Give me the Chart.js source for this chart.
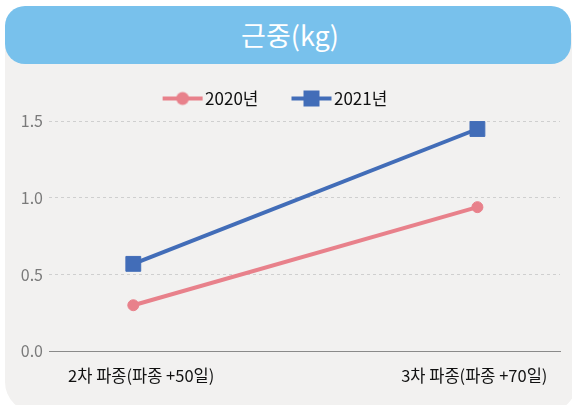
<!DOCTYPE html>
<html>
<head>
<meta charset="utf-8">
<script src="https://cdn.jsdelivr.net/npm/chart.js@4.4.1/dist/chart.umd.min.js"></script>
<style>
  body { margin: 0; background: #ffffff; width: 572px; height: 405px; overflow: hidden; position: relative; font-family: "Noto Sans CJK KR", sans-serif; }
  .panel { position: absolute; left: 5px; top: 20px; width: 572px; height: 392px; background: #f2f1f0; border-radius: 30px; }
  .title { position: absolute; left: 5px; top: 6px; width: 562px; padding-left: 4px; height: 58px; background: #78c1ec; border-radius: 20px;
           color: #ffffff; font-size: 27px; line-height: 58px; text-align: center; }
  .wrap { position: absolute; left: 0; top: 64px; width: 572px; height: 341px; }
</style>
</head>
<body>
<div class="panel"></div>
<div class="title">근중(kg)</div>
<div class="wrap"><canvas id="lines"></canvas></div>
<script>
const categories = ['2차 파종(파종 +50일)', '3차 파종(파종 +70일)'];
const seriesNames = ['2020년', '2021년'];
const values2020 = [0.3, 0.94];
const values2021 = [0.57, 1.45];
const yTicks = [0, 0.5, 1.0, 1.5];

const colors = ['#e8818b', '#426db8'];
const markers = ['circle', 'rect'];

// legend icon: line with marker, drawn on the right part so text sits close
function legendIcon(color, marker) {
  const c = document.createElement('canvas')
  c.width = 80
  c.height = 18
  const ctx = c.getContext('2d')
  ctx.strokeStyle = color
  ctx.fillStyle = color
  ctx.lineWidth = 4
  ctx.beginPath()
  ctx.moveTo(38, 9)
  ctx.lineTo(78, 9)
  ctx.stroke()
  if (marker == 'circle') {
    ctx.beginPath()
    ctx.arc(58, 9, 6.5, 0, Math.PI * 2)
    ctx.fill()
  } else {
    ctx.fillRect(50, 1, 16, 16)
  }
  return c
}

const icons = [legendIcon(colors[0], markers[0]), legendIcon(colors[1], markers[1])];

const toPoints = vals => vals.map((v, i) => ({ x: i, y: v }));

// legend sits partly over the plot area, like the original
const shiftLegend = {
  id: 'shiftLegend',
  afterLayout(chart) {
    chart.legend.left -= 20
    chart.legend.right -= 20
    chart.legend.top += 11
    chart.legend.bottom += 11
  },
}

// category labels sit a little off the points, as in the original
const labelPos = [0.023, 0.991];

const lineConfig = {
  type: 'line',
  data: {
    datasets: [
      {
        label: seriesNames[0],
        data: toPoints(values2020),
        borderColor: colors[0],
        backgroundColor: colors[0],
        borderWidth: 4,
        pointStyle: 'circle',
        pointRadius: 5.5,
        pointBorderWidth: 1,
      },
      {
        label: seriesNames[1],
        data: toPoints(values2021),
        borderColor: colors[1],
        backgroundColor: colors[1],
        borderWidth: 4,
        pointStyle: 'rect',
        pointRadius: 10.5,
        pointBorderWidth: 1,
      },
    ],
  },
  options: {
    responsive: true,
    maintainAspectRatio: false,
    animation: false,
    layout: { padding: { top: 12, right: 12, left: 0, bottom: 4 } },
    plugins: {
      tooltip: { enabled: false },
      legend: {
        display: true,
        labels: {
          usePointStyle: true,
          pointStyleWidth: 64,
          padding: 3,
          color: '#111111',
          font: { family: '"Noto Sans CJK KR", sans-serif', size: 17 },
          generateLabels: chart => chart.data.datasets.map((ds, i) => ({
            text: ds.label,
            pointStyle: icons[i],
            datasetIndex: i,
            fontColor: '#111111',
            lineWidth: 0,
          })),
        },
      },
    },
    scales: {
      x: {
        type: 'linear',
        min: -0.245,
        max: 1.24,
        afterBuildTicks: axis => { axis.ticks = labelPos.map(v => ({ value: v })) },
        grid: { display: false, drawTicks: false },
        border: { display: true, color: '#8a8a8a', width: 1 },
        ticks: {
          padding: 15,
          color: '#111111',
          font: { family: '"Noto Sans CJK KR", sans-serif', size: 16.5 },
          callback: v => categories[Math.round(v)],
        },
      },
      y: {
        min: 0,
        max: 1.6,
        afterBuildTicks: axis => { axis.ticks = yTicks.map(v => ({ value: v })) },
        afterFit: axis => { axis.width = 49 },
        grid: {
          color: ctx => ctx.tick && ctx.tick.value === 0 ? 'rgba(0,0,0,0)' : '#cfcfcf',
          drawTicks: false,
        },
        border: { display: false, dash: [3, 3] },
        ticks: {
          padding: 6,
          color: '#7a7a7a',
          font: { family: '"Noto Sans CJK KR", sans-serif', size: 16 },
          callback: v => v.toFixed(1),
        },
      },
    },
  },
  plugins: [shiftLegend],
}

const linesCtx = document.getElementById('lines')
window.myLine = new Chart(linesCtx, lineConfig)
</script>
</body>
</html>
